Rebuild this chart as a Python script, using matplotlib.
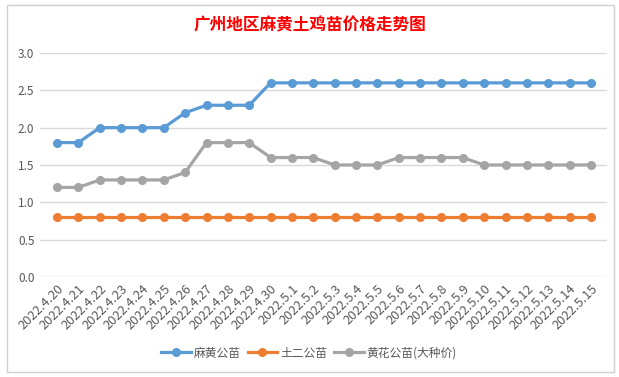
import matplotlib.pyplot as plt
from matplotlib.patches import Rectangle

plt.rcParams['font.family'] = ['Noto Sans CJK SC', 'DejaVu Sans']

dates = ['2022.4.20', '2022.4.21', '2022.4.22', '2022.4.23', '2022.4.24', '2022.4.25',
         '2022.4.26', '2022.4.27', '2022.4.28', '2022.4.29', '2022.4.30', '2022.5.1',
         '2022.5.2', '2022.5.3', '2022.5.4', '2022.5.5', '2022.5.6', '2022.5.7',
         '2022.5.8', '2022.5.9', '2022.5.10', '2022.5.11', '2022.5.12', '2022.5.13',
         '2022.5.14', '2022.5.15']
mahuang = [1.8, 1.8, 2.0, 2.0, 2.0, 2.0, 2.2, 2.3, 2.3, 2.3, 2.6, 2.6, 2.6,
           2.6, 2.6, 2.6, 2.6, 2.6, 2.6, 2.6, 2.6, 2.6, 2.6, 2.6, 2.6, 2.6]
tuer = [0.8] * 26
huanghua = [1.2, 1.2, 1.3, 1.3, 1.3, 1.3, 1.4, 1.8, 1.8, 1.8, 1.6, 1.6, 1.6,
            1.5, 1.5, 1.5, 1.6, 1.6, 1.6, 1.6, 1.5, 1.5, 1.5, 1.5, 1.5, 1.5]
yticks = [0.0, 0.5, 1.0, 1.5, 2.0, 2.5, 3.0]

fig = plt.figure(figsize=(6.19, 3.77), dpi=100)
fig.patches.append(Rectangle((7 / 619, 5 / 377), 607 / 619, 367 / 377,
                             transform=fig.transFigure, fill=False,
                             edgecolor='#D0D0D0', linewidth=1))
ax = fig.add_axes([40 / 619, 1 - 277 / 377, 567 / 619, 224 / 377])

x = range(len(dates))
ax.plot(x, mahuang, color='#5B9BD5', lw=2.3, marker='o', ms=5.5, label='麻黄公苗')
ax.plot(x, tuer, color='#ED7D31', lw=2.3, marker='o', ms=5.5, label='土二公苗')
ax.plot(x, huanghua, color='#A5A5A5', lw=2.3, marker='o', ms=5.5, label='黄花公苗(大种价)')

# first point sits at ~57px, last at ~591px, gridlines run 40..607px
step = (591 - 57) / (len(dates) - 1)
ax.set_xlim(-17 / step, len(dates) - 1 + 16 / step)
ax.set_ylim(0, 3.0)
ax.set_yticks(yticks)
ax.set_yticklabels([f'{v:.1f}' for v in yticks], fontsize=8.5, color='#595959')
ax.set_xticks(list(x))
ax.set_xticklabels(dates, rotation=45, ha='right', rotation_mode='anchor',
                   fontsize=9.3, color='#595959')
ax.grid(axis='y', color='#D9D9D9', lw=1)
ax.set_axisbelow(True)
for s in ax.spines.values():
    s.set_visible(False)
ax.tick_params(length=0, pad=4)

fig.text(0.5, 1 - 25 / 377, '广州地区麻黄土鸡苗价格走势图', ha='center', va='center',
         fontsize=12, color='#FF0000', fontweight='bold')
fig.legend(loc='center', bbox_to_anchor=(309 / 619, 1 - 353 / 377), ncol=3,
           frameon=False, fontsize=8.5, handlelength=2.5, columnspacing=0.6,
           handletextpad=0.25, labelcolor='#595959')

fig.savefig('out.png', dpi=100)
